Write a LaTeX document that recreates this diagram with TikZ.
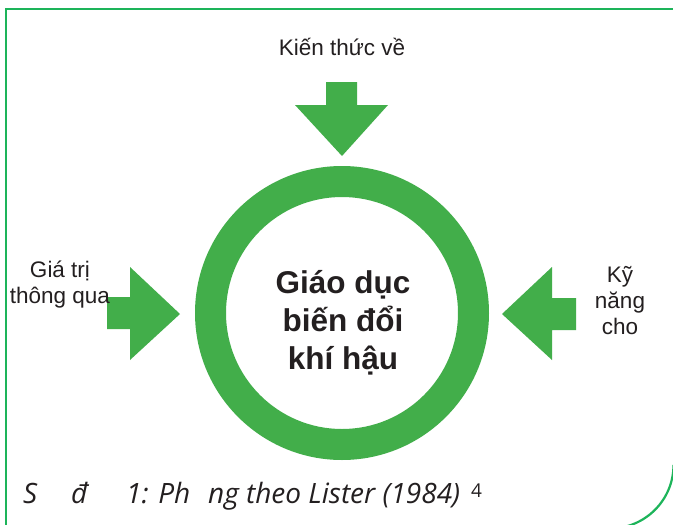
\documentclass[tikz,border=0pt]{standalone}
\usepackage{fontspec}
\setmainfont{Liberation Sans}
\newfontfamily\capfont{Open Sans}
\definecolor{framegreen}{RGB}{29,180,90}
\definecolor{arrowgreen}{RGB}{66,174,74}
\definecolor{txt}{RGB}{35,31,32}
\begin{document}
\begin{tikzpicture}[x=1pt,y=-1pt,
  lbl/.style={anchor=base,inner sep=0pt,text=txt,font=\fontsize{22.5}{25}\selectfont},
  ttl/.style={anchor=base,inner sep=0pt,text=txt,font=\fontsize{31.5}{34}\selectfont\bfseries},
  captxt/.style={anchor=base west,inner sep=0pt,text=txt,font=\capfont\itshape\fontsize{28}{30}\selectfont},
  arr/.style={fill=arrowgreen,draw=none},
  framestyle/.style={draw=framegreen,line width=2.2pt}]
\useasboundingbox (0,0) rectangle (673,525);
\fill[white] (0,0) rectangle (673,525);
\begin{scope}
\clip (0,0) rectangle (673,525);
\draw[framestyle] (6,530) -- (6,9) -- (680,9);
\draw[framestyle] (610,465) ++(0:63.5) arc[start angle=0,end angle=90,radius=63.5];
\end{scope}
% ring
\fill[arrowgreen,even odd rule] (342,313) circle[radius=147] (342,313) circle[radius=116];
\coordinate (c) at (342,313);
% arrows
\fill[arr] (326,82) -- (357,82) -- (357,105) -- (388,105) -- (342,156) -- (295,105) -- (326,105) -- cycle;
\fill[arr] (107,297) -- (130,297) -- (130,267) -- (180,314) -- (130,360) -- (130,329) -- (107,329) -- cycle;
\fill[arr] (576,298) -- (552,298) -- (552,267) -- (502,314) -- (552,360) -- (552,330) -- (576,330) -- cycle;
% labels
\node[lbl] (top) at (342,55) {Kiến thức về};
\node[lbl] (l1) at (60,277) {Giá trị};
\node[lbl] (l2) at (60,303) {thông qua};
\node[lbl] (r1) at (620,282) {Kỹ};
\node[lbl] (r2) at (620,308) {năng};
\node[lbl] (r3) at (620,334) {cho};
% title
\node[ttl] (t1) at (343,293) {Giáo dục};
\node[ttl] (t2) at (343,331) {biến đổi};
\node[ttl] (t3) at (343,369) {khí hậu};
% caption
\node[captxt] (s1) at (23,503) {S};
\node[captxt] (s2) at (71,503) {đ};
\node[captxt] (s3) at (126,503) {1: Ph};
\node[captxt] (s4) at (208,503) {ng theo Lister (1984)};
\node[anchor=base west,inner sep=0pt,text=txt,font=\capfont\fontsize{19}{21}\selectfont] (s5) at (471,497) {4};
\end{tikzpicture}
\end{document}
